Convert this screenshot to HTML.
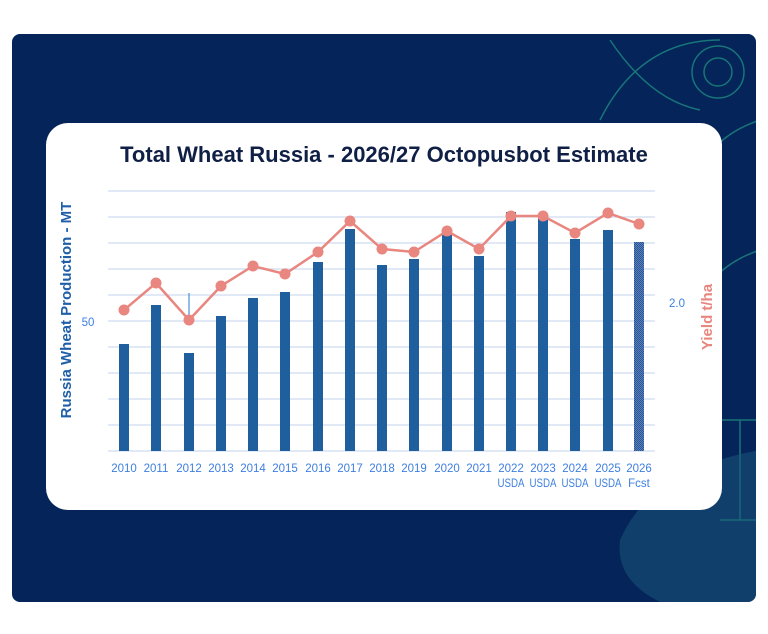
<!DOCTYPE html><html><head><style>body{margin:0;background:#fff;width:768px;height:634px;overflow:hidden}</style></head><body>
<svg width="768" height="634" xmlns="http://www.w3.org/2000/svg" style="position:absolute;left:0;top:0;font-family:'Liberation Sans',sans-serif">
<defs><clipPath id="c"><rect x="12" y="34" width="744" height="568" rx="8"/></clipPath>
<pattern id="p" width="2" height="2" patternUnits="userSpaceOnUse"><rect width="2" height="2" fill="#5b7fb8"/><rect width="1" height="1" fill="#2a5596"/><rect x="1" y="1" width="1" height="1" fill="#2a5596"/></pattern></defs>
<rect x="12" y="34" width="744" height="568" rx="8" fill="#04245a"/>
<g clip-path="url(#c)" fill="none" stroke="#1f8a80" stroke-width="1.5" opacity="0.8">
<circle cx="718" cy="72" r="14"/><circle cx="718" cy="72" r="26"/>
<path d="M600 120 Q640 40 720 40"/><path d="M690 200 Q700 140 760 120"/><path d="M690 330 Q700 270 760 250"/>
<path d="M720 420 L760 420 M720 520 L760 520 M740 420 L740 520"/>
<path d="M610 40 Q650 100 700 110"/>
</g>
<path clip-path="url(#c)" d="M620 540 Q650 470 760 450 L760 602 L660 602 Q615 580 620 540Z" fill="#1a5a7a" opacity="0.5"/>
<rect x="46" y="123" width="676" height="387" rx="22" fill="#fff"/>
<text x="384" y="162" text-anchor="middle" font-size="22" font-weight="bold" fill="#0f1f45">Total Wheat Russia - 2026/27 Octopusbot Estimate</text>
<g stroke="#cfdcf0" stroke-width="1.2">
<line x1="108" x2="655" y1="191" y2="191"/><line x1="108" x2="655" y1="217" y2="217"/><line x1="108" x2="655" y1="243" y2="243"/><line x1="108" x2="655" y1="269" y2="269"/><line x1="108" x2="655" y1="295" y2="295"/><line x1="108" x2="655" y1="321" y2="321"/><line x1="108" x2="655" y1="347" y2="347"/><line x1="108" x2="655" y1="373" y2="373"/><line x1="108" x2="655" y1="399" y2="399"/><line x1="108" x2="655" y1="425" y2="425"/><line x1="108" x2="655" y1="451" y2="451"/></g>
<g fill="#1f5f9e">
<rect x="119" y="344" width="10" height="107"/><rect x="151" y="305" width="10" height="146"/><rect x="184" y="353" width="10" height="98"/><rect x="216" y="316" width="10" height="135"/><rect x="248" y="298" width="10" height="153"/><rect x="280" y="292" width="10" height="159"/><rect x="313" y="262" width="10" height="189"/><rect x="345" y="229" width="10" height="222"/><rect x="377" y="265" width="10" height="186"/><rect x="409" y="259" width="10" height="192"/><rect x="442" y="232" width="10" height="219"/><rect x="474" y="256" width="10" height="195"/><rect x="506" y="212" width="10" height="239"/><rect x="538" y="215" width="10" height="236"/><rect x="570" y="239" width="10" height="212"/><rect x="603" y="230" width="10" height="221"/></g>
<rect x="634" y="242" width="10" height="209" fill="url(#p)"/>
<line x1="189" y1="293" x2="189" y2="320" stroke="#4a8fe0" stroke-width="1.2"/>
<polyline fill="none" stroke="#e8867f" stroke-width="2.5" points="124,310 156,283 189,320 221,286 253,266 285,274 318,252 350,221 382,249 414,252 447,231 479,249 511,216 543,216 575,233 608,213 639,224"/>
<g fill="#e8867f"><circle cx="124" cy="310" r="5.5"/><circle cx="156" cy="283" r="5.5"/><circle cx="189" cy="320" r="5.5"/><circle cx="221" cy="286" r="5.5"/><circle cx="253" cy="266" r="5.5"/><circle cx="285" cy="274" r="5.5"/><circle cx="318" cy="252" r="5.5"/><circle cx="350" cy="221" r="5.5"/><circle cx="382" cy="249" r="5.5"/><circle cx="414" cy="252" r="5.5"/><circle cx="447" cy="231" r="5.5"/><circle cx="479" cy="249" r="5.5"/><circle cx="511" cy="216" r="5.5"/><circle cx="543" cy="216" r="5.5"/><circle cx="575" cy="233" r="5.5"/><circle cx="608" cy="213" r="5.5"/><circle cx="639" cy="224" r="5.5"/></g>
<g font-size="11.5" fill="#3d7fe0" text-anchor="middle">
<text x="124" y="472">2010</text><text x="156" y="472">2011</text><text x="189" y="472">2012</text><text x="221" y="472">2013</text><text x="253" y="472">2014</text><text x="285" y="472">2015</text><text x="318" y="472">2016</text><text x="350" y="472">2017</text><text x="382" y="472">2018</text><text x="414" y="472">2019</text><text x="447" y="472">2020</text><text x="479" y="472">2021</text><text x="511" y="472">2022</text><text x="543" y="472">2023</text><text x="575" y="472">2024</text><text x="608" y="472">2025</text><text x="639" y="472">2026</text>
<text x="511" y="487" textLength="27" lengthAdjust="spacingAndGlyphs">USDA</text><text x="543" y="487" textLength="27" lengthAdjust="spacingAndGlyphs">USDA</text><text x="575" y="487" textLength="27" lengthAdjust="spacingAndGlyphs">USDA</text><text x="608" y="487" textLength="27" lengthAdjust="spacingAndGlyphs">USDA</text><text x="639" y="487">Fcst</text>
<text x="88" y="326">50</text><text x="677" y="307">2.0</text></g>
<text transform="translate(71,310) rotate(-90)" text-anchor="middle" font-size="15" font-weight="bold" fill="#1f5fa8">Russia Wheat Production - MT</text>
<text transform="translate(712,317) rotate(-90)" text-anchor="middle" font-size="15" font-weight="bold" fill="#e8867f">Yield t/ha</text>
</svg></body></html>
